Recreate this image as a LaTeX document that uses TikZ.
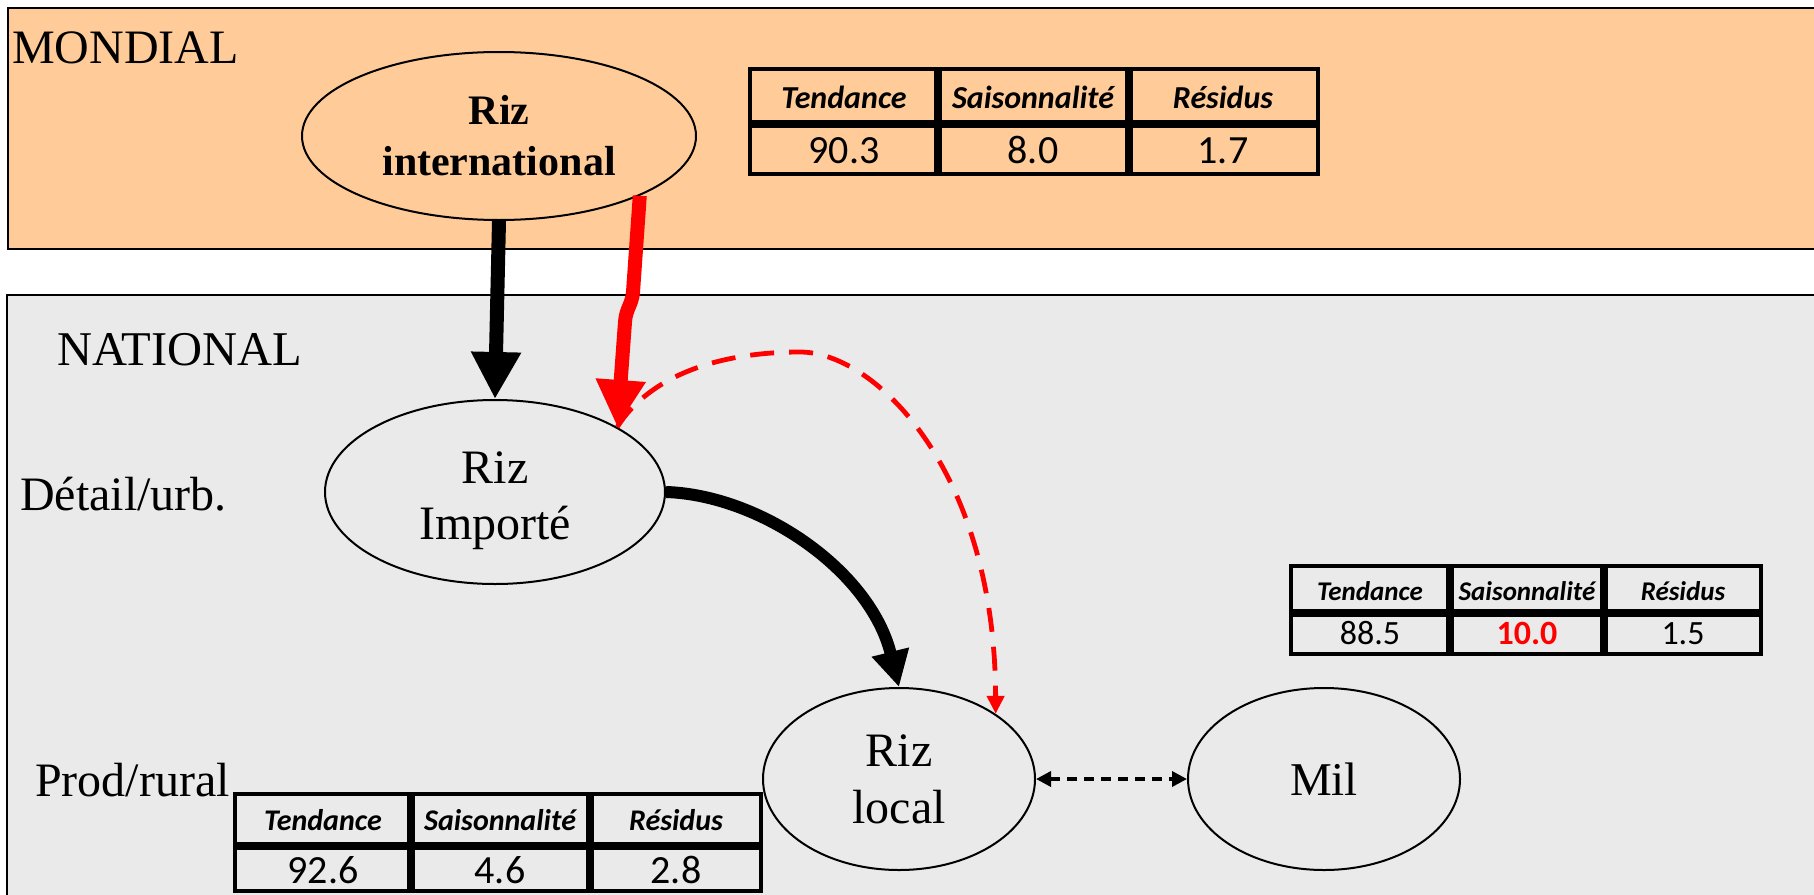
\documentclass[tikz,border=0pt]{standalone}
\usepackage{fontspec}
\setmainfont{Liberation Serif}
\newfontfamily\calfont{Carlito}
\usetikzlibrary{arrows.meta,shapes.geometric}
\definecolor{mondial}{RGB}{255,204,153}
\definecolor{national}{RGB}{234,234,234}
\definecolor{redarrow}{RGB}{255,0,0}
\tikzset{
  zone/.style={line width=2.5pt, draw=black},
  bubble/.style={ellipse, draw=black, line width=2pt, inner sep=0pt, align=center},
  lbl/.style={anchor=base west, inner sep=0pt, font=\fontsize{48}{56}\selectfont},
  tabline/.style={line width=4pt},
  tabsep/.style={line width=8pt},
  hd/.style={anchor=base, inner sep=0pt, font=\calfont\bfseries\itshape\fontsize{#1}{#1}\selectfont},
  val/.style={anchor=base, inner sep=0pt, font=\calfont\fontsize{#1}{#1}\selectfont},
}
\begin{document}
\begin{tikzpicture}[x=1pt,y=-1pt]
\useasboundingbox (0,0) rectangle (1814,894);
\fill[white] (0,0) rectangle (1814,894);
% zones
\draw[zone, fill=mondial] (8,8) rectangle (1830,249);
\draw[zone, fill=national] (7,295) rectangle (1830,910);
% labels
\node[lbl] (mondiallbl) at (12,63) {MONDIAL};
\node[lbl, font=\fontsize{48.5}{56}\selectfont] (nationallbl) at (57,365) {NATIONAL};
\node[lbl] (detail) at (20,510) {Détail/urb.};
\node[lbl] (prod) at (35,796) {Prod/rural};
% ellipses
\node[bubble, fill=mondial, minimum width=394pt, minimum height=168pt,
      font=\bfseries\fontsize{42}{51}\selectfont] (ri) at (499,136) {Riz\\international};
\node[bubble, fill=national, minimum width=340pt, minimum height=184pt] (rim) at (495,492) {};
\node[align=center, inner sep=0pt, font=\fontsize{48}{56}\selectfont] (rimtxt) at (495,501) {Riz\\Importé};
\node[bubble, fill=national, minimum width=272pt, minimum height=182pt,
      font=\fontsize{48}{57}\selectfont] (rl) at (899,779) {Riz\\local};
\node[bubble, fill=national, minimum width=272pt, minimum height=182pt,
      font=\fontsize{47}{57}\selectfont] (mil) at (1324,779) {Mil};
% arrows
\draw[line width=14pt, -{Triangle[length=47pt,width=47pt]}] (ri.south) -- (rim.north);
\draw[redarrow, line width=14pt, line join=round, -{Triangle[length=47pt,width=47pt]}]
  (ri.-23) -- (633,292) .. controls (632,305) and (626,308) .. (625,322) -- (rim.28);
\draw[redarrow, line width=4.8pt, dash pattern=on 24pt off 15pt, -{Triangle[length=18pt,width=17pt]}]
  (rim.28) .. controls (650,375) and (720,352) .. (800,352)
  .. controls (875,352) and (995,470) .. (rl.34);
\draw[line width=12pt, -{Triangle[length=36pt,width=36pt]}]
  (rim.east) .. controls (760,495) and (870,570) .. (rl.north);
\draw[line width=3.5pt, dash pattern=on 10pt off 7pt,
      {Triangle[length=15pt,width=15pt]}-{Triangle[length=15pt,width=15pt]}] (rl.east) -- (mil.west);
% table 1 (mondial)
\draw[tabline] (750,69) rectangle (1318,174);
\draw[tabsep] (938,69) -- (938,174) (1129,69) -- (1129,174) (750,124) -- (1318,124);
\node[hd=32] (t1h1) at (844,108) {Tendance};
\node[hd=32] (t1h2) at (1033,108) {Saisonnalité};
\node[hd=32] (t1h3) at (1223,108) {Résidus};
\node[val=40] (t1v1) at (844,163) {90.3};
\node[val=40] (t1v2) at (1033,163) {8.0};
\node[val=40] (t1v3) at (1223,163) {1.7};
% table 2 (right)
\draw[tabline] (1291,566) rectangle (1761,654);
\draw[tabsep] (1450,566) -- (1450,654) (1604,566) -- (1604,654) (1291,613) -- (1761,613);
\node[hd=27] (t2h1) at (1370,600) {Tendance};
\node[hd=27] (t2h2) at (1527,600) {Saisonnalité};
\node[hd=27] (t2h3) at (1683,600) {Résidus};
\node[val=34] (t2v1) at (1370,644) {88.5};
\node[val=34, text=redarrow] (t2v2) at (1527,644) {\bfseries 10.0};
\node[val=34] (t2v3) at (1683,644) {1.5};
% table 3 (bottom left)
\draw[tabline] (235,794) rectangle (761,891);
\draw[tabsep] (411,794) -- (411,891) (590,794) -- (590,891) (235,846) -- (761,846);
\node[hd=30] (t3h1) at (323,830) {Tendance};
\node[hd=30] (t3h2) at (500,830) {Saisonnalité};
\node[hd=30] (t3h3) at (676,830) {Résidus};
\node[val=40] (t3v1) at (323,883) {92.6};
\node[val=40] (t3v2) at (500,883) {4.6};
\node[val=40] (t3v3) at (676,883) {2.8};
\end{tikzpicture}
\end{document}
